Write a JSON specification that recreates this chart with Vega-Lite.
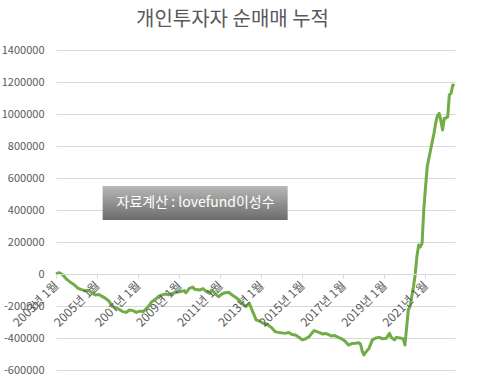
{
  "$schema": "https://vega.github.io/schema/vega-lite/v6.json",
  "width": 399,
  "height": 320,
  "autosize": "none",
  "padding": {"left": 56, "top": 50, "right": 25, "bottom": 10},
  "background": "white",
  "title": {"text": "개인투자자 순매매 누적", "fontSize": 20, "font": "Noto Sans CJK KR", "fontWeight": "normal", "color": "#595959", "anchor": "middle", "dx": -23, "offset": 14},
  "config": {"view": {"stroke": null}, "font": "Noto Sans CJK KR"},
  "layer": [
    {
      "data": {"values": [
        {"date": "2003-01-01", "value": 0},
        {"date": "2003-02-01", "value": 5000},
        {"date": "2003-03-01", "value": 8000},
        {"date": "2003-05-01", "value": -5000},
        {"date": "2003-07-01", "value": -30000},
        {"date": "2003-09-01", "value": -48000},
        {"date": "2003-11-01", "value": -62000},
        {"date": "2004-02-01", "value": -90000},
        {"date": "2004-04-01", "value": -98000},
        {"date": "2004-06-01", "value": -104000},
        {"date": "2004-08-01", "value": -102000},
        {"date": "2004-10-01", "value": -118000},
        {"date": "2004-12-01", "value": -131000},
        {"date": "2005-02-01", "value": -128000},
        {"date": "2005-04-01", "value": -140000},
        {"date": "2005-06-01", "value": -152000},
        {"date": "2005-08-01", "value": -170000},
        {"date": "2005-10-01", "value": -204000},
        {"date": "2005-12-01", "value": -210000},
        {"date": "2006-02-01", "value": -222000},
        {"date": "2006-04-01", "value": -235000},
        {"date": "2006-06-01", "value": -240000},
        {"date": "2006-08-01", "value": -225000},
        {"date": "2006-10-01", "value": -229000},
        {"date": "2006-12-01", "value": -240000},
        {"date": "2007-02-01", "value": -232000},
        {"date": "2007-04-01", "value": -235000},
        {"date": "2007-06-01", "value": -215000},
        {"date": "2007-08-01", "value": -190000},
        {"date": "2007-09-01", "value": -173000},
        {"date": "2007-11-01", "value": -160000},
        {"date": "2008-01-01", "value": -140000},
        {"date": "2008-03-01", "value": -131000},
        {"date": "2008-05-01", "value": -125000},
        {"date": "2008-07-01", "value": -130000},
        {"date": "2008-09-01", "value": -121000},
        {"date": "2008-11-01", "value": -115000},
        {"date": "2009-02-01", "value": -110000},
        {"date": "2009-04-01", "value": -104000},
        {"date": "2009-05-01", "value": -118000},
        {"date": "2009-07-01", "value": -90000},
        {"date": "2009-09-01", "value": -82000},
        {"date": "2009-10-01", "value": -95000},
        {"date": "2010-01-01", "value": -100000},
        {"date": "2010-03-01", "value": -92000},
        {"date": "2010-05-01", "value": -110000},
        {"date": "2010-07-01", "value": -121000},
        {"date": "2010-08-01", "value": -100000},
        {"date": "2010-10-01", "value": -121000},
        {"date": "2010-12-01", "value": -142000},
        {"date": "2011-02-01", "value": -125000},
        {"date": "2011-04-01", "value": -117000},
        {"date": "2011-06-01", "value": -114000},
        {"date": "2011-08-01", "value": -131000},
        {"date": "2011-10-01", "value": -145000},
        {"date": "2011-12-01", "value": -162000},
        {"date": "2012-02-01", "value": -185000},
        {"date": "2012-04-01", "value": -204000},
        {"date": "2012-06-01", "value": -183000},
        {"date": "2012-08-01", "value": -235000},
        {"date": "2012-10-01", "value": -287000},
        {"date": "2012-12-01", "value": -295000},
        {"date": "2013-02-01", "value": -308000},
        {"date": "2013-04-01", "value": -312000},
        {"date": "2013-05-01", "value": -319000},
        {"date": "2013-07-01", "value": -335000},
        {"date": "2013-09-01", "value": -360000},
        {"date": "2013-11-01", "value": -365000},
        {"date": "2014-01-01", "value": -368000},
        {"date": "2014-03-01", "value": -371000},
        {"date": "2014-05-01", "value": -365000},
        {"date": "2014-07-01", "value": -378000},
        {"date": "2014-09-01", "value": -381000},
        {"date": "2014-11-01", "value": -395000},
        {"date": "2015-01-01", "value": -412000},
        {"date": "2015-03-01", "value": -405000},
        {"date": "2015-05-01", "value": -392000},
        {"date": "2015-07-01", "value": -365000},
        {"date": "2015-08-01", "value": -354000},
        {"date": "2015-10-01", "value": -362000},
        {"date": "2016-01-01", "value": -375000},
        {"date": "2016-03-01", "value": -372000},
        {"date": "2016-06-01", "value": -387000},
        {"date": "2016-08-01", "value": -385000},
        {"date": "2016-10-01", "value": -396000},
        {"date": "2016-12-01", "value": -405000},
        {"date": "2017-02-01", "value": -420000},
        {"date": "2017-04-01", "value": -444000},
        {"date": "2017-06-01", "value": -435000},
        {"date": "2017-08-01", "value": -433000},
        {"date": "2017-10-01", "value": -430000},
        {"date": "2017-11-01", "value": -437000},
        {"date": "2017-12-01", "value": -480000},
        {"date": "2018-01-01", "value": -506000},
        {"date": "2018-02-01", "value": -490000},
        {"date": "2018-04-01", "value": -465000},
        {"date": "2018-06-01", "value": -412000},
        {"date": "2018-08-01", "value": -400000},
        {"date": "2018-10-01", "value": -396000},
        {"date": "2018-12-01", "value": -405000},
        {"date": "2019-02-01", "value": -402000},
        {"date": "2019-04-01", "value": -371000},
        {"date": "2019-05-01", "value": -395000},
        {"date": "2019-07-01", "value": -412000},
        {"date": "2019-08-01", "value": -396000},
        {"date": "2019-10-01", "value": -400000},
        {"date": "2019-11-01", "value": -402000},
        {"date": "2019-12-01", "value": -405000},
        {"date": "2020-01-01", "value": -444000},
        {"date": "2020-03-01", "value": -225000},
        {"date": "2020-04-01", "value": -204000},
        {"date": "2020-06-01", "value": -79000},
        {"date": "2020-07-01", "value": -6000},
        {"date": "2020-08-01", "value": 108000},
        {"date": "2020-09-01", "value": 181000},
        {"date": "2020-10-01", "value": 170000},
        {"date": "2020-11-01", "value": 192000},
        {"date": "2020-12-01", "value": 400000},
        {"date": "2021-01-01", "value": 540000},
        {"date": "2021-02-01", "value": 671000},
        {"date": "2021-04-01", "value": 775000},
        {"date": "2021-06-01", "value": 879000},
        {"date": "2021-07-01", "value": 942000},
        {"date": "2021-08-01", "value": 990000},
        {"date": "2021-09-01", "value": 1004000},
        {"date": "2021-10-01", "value": 960000},
        {"date": "2021-11-01", "value": 900000},
        {"date": "2021-12-01", "value": 973000},
        {"date": "2022-01-01", "value": 975000},
        {"date": "2022-02-01", "value": 983000},
        {"date": "2022-03-01", "value": 1119000},
        {"date": "2022-04-01", "value": 1129000},
        {"date": "2022-05-01", "value": 1181000},
        {"date": "2022-06-01", "value": 1175000}
      ]},
      "mark": {"type": "line", "color": "#70AD47", "strokeWidth": 3, "strokeJoin": "round"},
      "encoding": {
        "x": {
          "field": "date", "type": "temporal",
          "scale": {"domain": [{"year": 2003, "month": 1, "date": 1}, {"year": 2022, "month": 6, "date": 10}]},
          "axis": {
            "title": null,
            "values": [
              {"year": 2003, "month": 1, "date": 1}, {"year": 2005, "month": 1, "date": 1},
              {"year": 2007, "month": 1, "date": 1}, {"year": 2009, "month": 1, "date": 1},
              {"year": 2011, "month": 1, "date": 1}, {"year": 2013, "month": 1, "date": 1},
              {"year": 2015, "month": 1, "date": 1}, {"year": 2017, "month": 1, "date": 1},
              {"year": 2019, "month": 1, "date": 1}, {"year": 2021, "month": 1, "date": 1}
            ],
            "tickCount": 12,
            "format": "%Y년 %-m월",
            "labelAngle": -45, "labelAlign": "right", "labelBaseline": "middle",
            "labelFontSize": 12, "labelColor": "#595959", "labelFont": "Noto Sans CJK KR",
            "labelOverlap": false, "labelPadding": 5,
            "offset": -96, "domainColor": "#d9d9d9", "tickColor": "#d9d9d9", "tickSize": 4,
            "grid": false, "zindex": 1
          }
        },
        "y": {
          "field": "value", "type": "quantitative",
          "scale": {"domain": [-600000, 1400000], "nice": false},
          "axis": {
            "title": null,
            "values": [-600000, -400000, -200000, 0, 200000, 400000, 600000, 800000, 1000000, 1200000, 1400000],
            "tickCount": 12,
            "labelExpr": "'' + datum.value",
            "labelOverlap": false,
            "domain": false, "ticks": false, "labelPadding": 12,
            "labelFontSize": 11, "labelColor": "#595959", "labelFont": "Noto Sans CJK KR",
            "grid": true, "gridColor": "#d9d9d9"
          }
        }
      }
    },
    {
      "data": {"values": [{"x": "2005-04-10", "x2": "2014-04-15", "y": 550000, "y2": 337500}]},
      "mark": {"type": "rect", "color": {"gradient": "linear", "x1": 0, "y1": 0, "x2": 0, "y2": 1, "stops": [{"offset": 0, "color": "#b8b8b8"}, {"offset": 1, "color": "#6b6b6b"}]}},
      "encoding": {
        "x": {"field": "x", "type": "temporal", "title": null},
        "x2": {"field": "x2"},
        "y": {"field": "y", "type": "quantitative", "title": null},
        "y2": {"field": "y2"}
      }
    },
    {
      "data": {"values": [{"x": "2009-10-20", "y": 443750, "label": "자료계산 : lovefund이성수"}]},
      "mark": {"type": "text", "color": "white", "fontSize": 14, "font": "Noto Sans CJK KR"},
      "encoding": {
        "x": {"field": "x", "type": "temporal", "title": null},
        "y": {"field": "y", "type": "quantitative", "title": null},
        "text": {"field": "label"}
      }
    }
  ]
}
